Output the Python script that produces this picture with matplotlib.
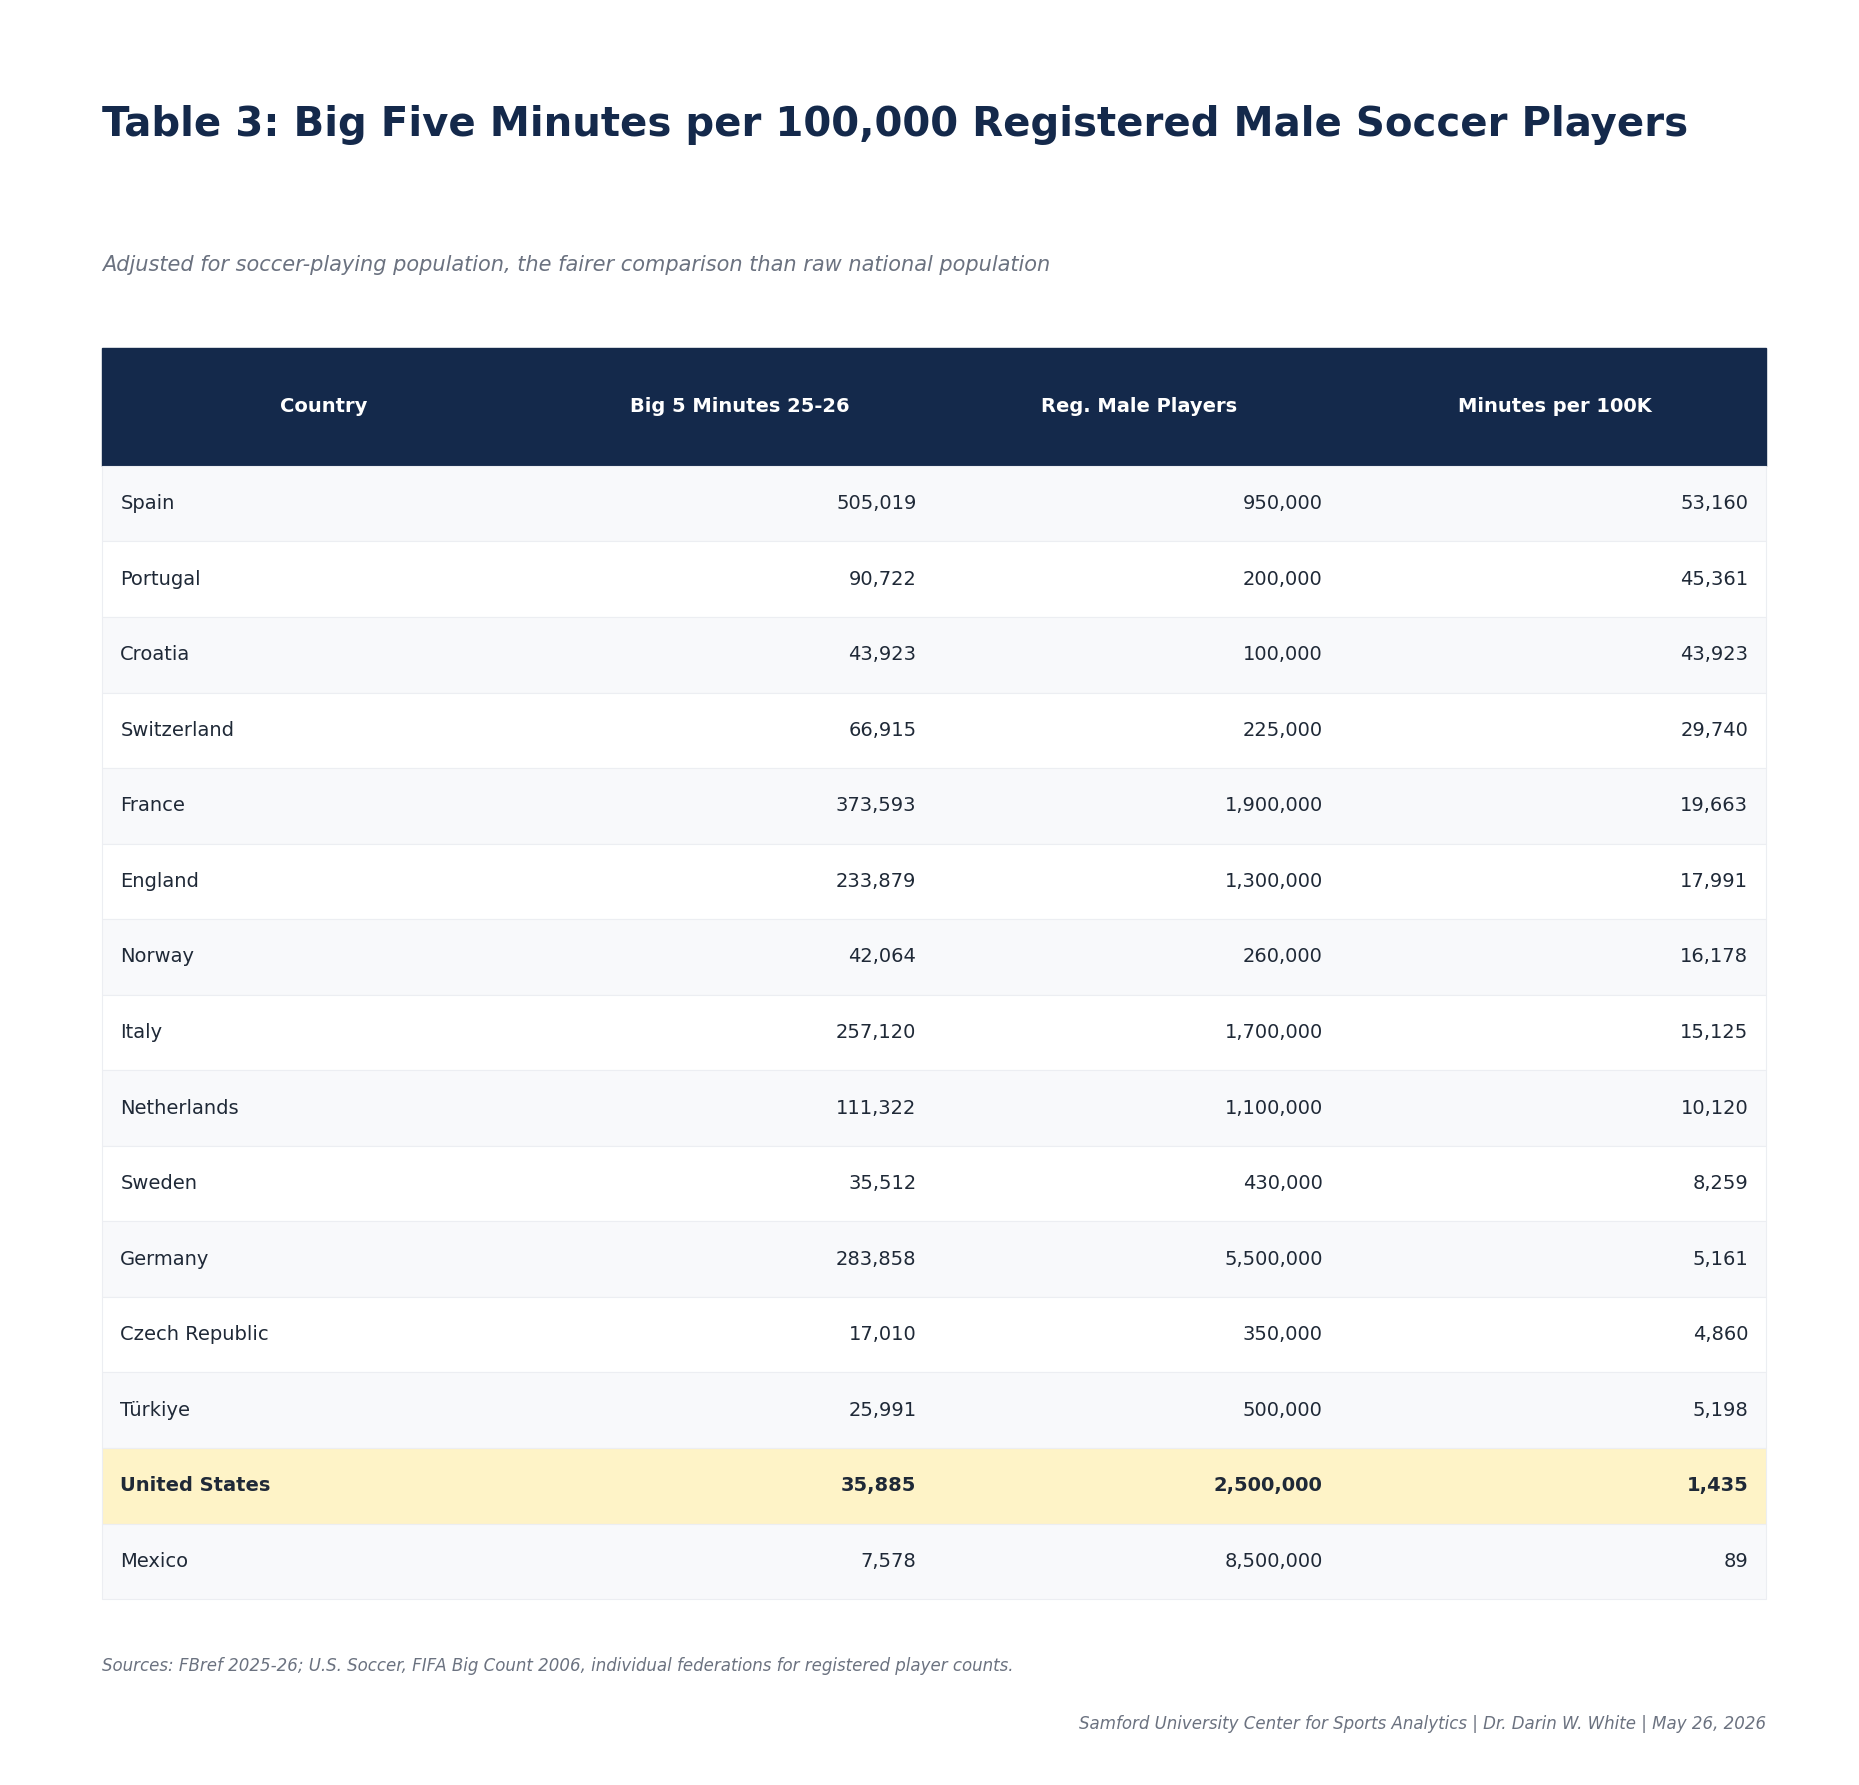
import matplotlib.pyplot as plt
from matplotlib.patches import Rectangle

countries = ['Spain', 'Portugal', 'Croatia', 'Switzerland', 'France', 'England', 'Norway',
             'Italy', 'Netherlands', 'Sweden', 'Germany', 'Czech Republic', 'Türkiye',
             'United States', 'Mexico']
minutes = [505019, 90722, 43923, 66915, 373593, 233879, 42064, 257120, 111322, 35512,
           283858, 17010, 25991, 35885, 7578]
players = [950000, 200000, 100000, 225000, 1900000, 1300000, 260000, 1700000, 1100000,
           430000, 5500000, 350000, 500000, 2500000, 8500000]
per100k = [53160, 45361, 43923, 29740, 19663, 17991, 16178, 15125, 10120, 8259, 5161,
           4860, 5198, 1435, 89]
headers = ['Country', 'Big 5 Minutes 25-26', 'Reg. Male Players', 'Minutes per 100K']
highlight = 'United States'

navy = '#14294b'
W, H = 1560, 1498
fig = plt.figure(figsize=(18.59, 17.85), dpi=100)
ax = fig.add_axes([0, 0, 1, 1])
ax.set_xlim(0, W)
ax.set_ylim(H, 0)
ax.axis('off')

ax.text(86, 105, 'Table 3: Big Five Minutes per 100,000 Registered Male Soccer Players',
        fontsize=29, fontweight='bold', color=navy, va='center')
ax.text(86, 222, 'Adjusted for soccer-playing population, the fairer comparison than raw national population',
        fontsize=15, style='italic', color='#6b7280', va='center')

left, right = 86, 1482
top, hdr_h, row_h = 292, 99, 63.4
ax.add_patch(Rectangle((left, top), right - left, hdr_h, color=navy))
hdr_x = [272, 621, 956, 1305]
for x, h in zip(hdr_x, headers):
    ax.text(x, top + hdr_h / 2, h, fontsize=14, fontweight='bold', color='white',
            ha='center', va='center')

val_x = [769, 1110, 1467]
y = top + hdr_h
for i, c in enumerate(countries):
    hl = c == highlight
    fc = '#fef3c7' if hl else ('#f8f9fb' if i % 2 == 0 else 'white')
    ax.add_patch(Rectangle((left, y), right - left, row_h, facecolor=fc,
                           edgecolor='#eceef2', lw=0.8))
    fw = 'bold' if hl else 'normal'
    cy = y + row_h / 2
    ax.text(101, cy, c, fontsize=14, fontweight=fw, color='#1f2937', va='center')
    for x, v in zip(val_x, (minutes[i], players[i], per100k[i])):
        ax.text(x, cy, f'{v:,}', fontsize=14, fontweight=fw, color='#1f2937',
                ha='right', va='center')
    y += row_h

ax.text(86, 1398, 'Sources: FBref 2025-26; U.S. Soccer, FIFA Big Count 2006, individual federations for registered player counts.',
        fontsize=12, style='italic', color='#6b7280', va='center')
ax.text(1482, 1447, 'Samford University Center for Sports Analytics | Dr. Darin W. White | May 26, 2026',
        fontsize=12, style='italic', color='#6b7280', va='center', ha='right')

fig.savefig('out.png', dpi=100)
